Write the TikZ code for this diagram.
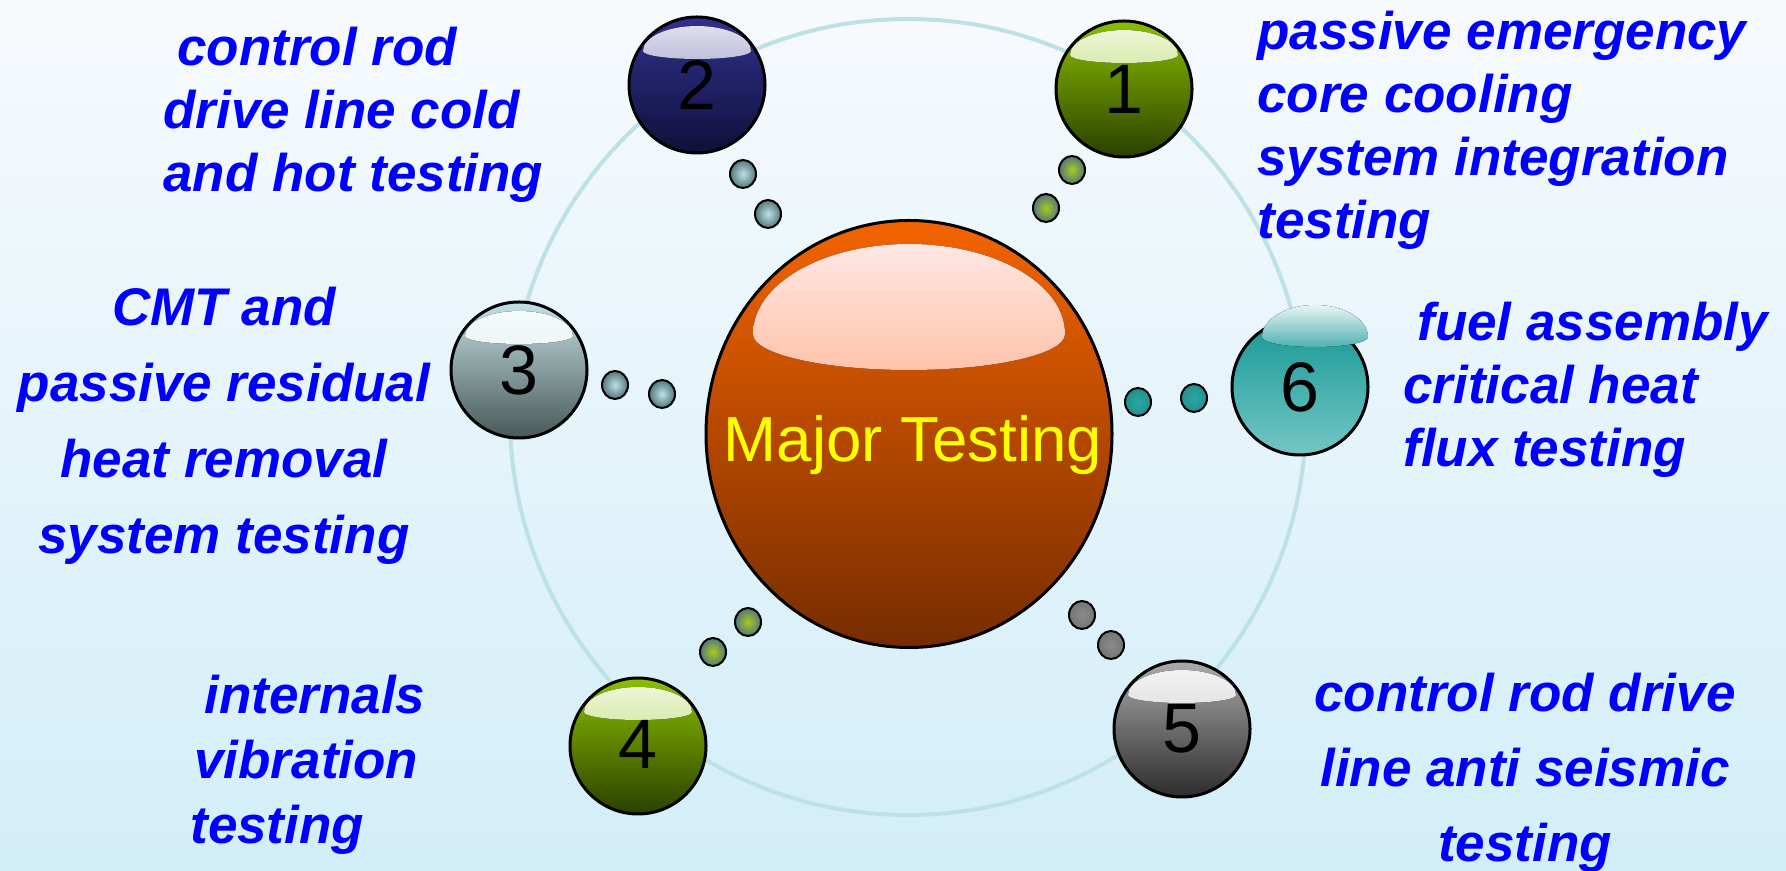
\documentclass[tikz,border=0pt]{standalone}
\usepackage{fontspec}
\setmainfont{Liberation Sans}
\usetikzlibrary{shapes.geometric}
\definecolor{bgtop}{HTML}{F7FAFD}
\definecolor{bgmid}{HTML}{EFF7FB}
\definecolor{bgbot}{HTML}{D2EEF8}
\definecolor{orbitc}{HTML}{BCE2E6}
\definecolor{labc}{HTML}{0000FF}
\definecolor{majc}{HTML}{FFFF00}
\definecolor{coretop}{HTML}{F46400}
\definecolor{corebot}{HTML}{762C00}
\definecolor{hitop}{HTML}{FFEDED}
\definecolor{hibot}{HTML}{FF7432}
\definecolor{greentop}{HTML}{8CC000}
\definecolor{greenbot}{HTML}{2A4000}
\definecolor{navytop}{HTML}{31318F}
\definecolor{navybot}{HTML}{10103A}
\definecolor{slatetop}{HTML}{C4E0E2}
\definecolor{slatebot}{HTML}{485858}
\definecolor{tealtop}{HTML}{169896}
\definecolor{tealbot}{HTML}{74C6C4}
\definecolor{greytop}{HTML}{ABABAB}
\definecolor{greybot}{HTML}{2C2C2C}
\definecolor{dotrim}{HTML}{55767C}
\definecolor{dotpale}{HTML}{BCE2E6}
\definecolor{dotlime}{HTML}{A4CC1C}
\definecolor{dotteal}{HTML}{2AA8A6}
\definecolor{dotgrey}{HTML}{8A8A8A}
\tikzset{
  orbit/.style={draw=orbitc, line width=2pt},
  ball/.style 2 args={circle, draw=black, line width=1.5pt, minimum size=68pt, inner sep=0pt,
    top color=#1, bottom color=#2, font=\fontsize{35}{35}\selectfont,
    path picture={\fill[top color=white!88!#1, bottom color=#1!72!white]
      ([yshift=-17pt]path picture bounding box.north) ++(-27pt,0)
      arc[start angle=180, end angle=0, x radius=27pt, y radius=12.5pt]
      arc[start angle=0, end angle=-180, x radius=27pt, y radius=4pt] -- cycle;}},
  plainball/.style 2 args={circle, draw=black, line width=1.5pt, minimum size=68pt, inner sep=0pt,
    top color=#1, bottom color=#2, font=\fontsize{35}{35}\selectfont},
  core/.style={ellipse, draw=black, line width=1.5pt, minimum width=203pt, minimum height=213.5pt,
    inner sep=0pt, top color=coretop, bottom color=corebot,
    path picture={\fill[top color=hitop, bottom color=hibot]
      ([yshift=50pt]path picture bounding box.center) ++(-78pt,0)
      arc[start angle=180, end angle=0, x radius=78pt, y radius=45pt]
      arc[start angle=0, end angle=-180, x radius=78pt, y radius=18pt] -- cycle;}},
  coretxt/.style={text=majc, font=\fontsize{31.8}{32}\selectfont, inner sep=0pt},
  dot/.style 2 args={ellipse, draw=black, line width=1pt, minimum width=13pt, minimum height=14pt,
    inner sep=0pt, inner color=#1, outer color=#2},
  lab/.style={text=labc, font=\fontsize{26.5}{31.5}\selectfont\bfseries\itshape, inner sep=0pt},
}

\begin{document}
\begin{tikzpicture}[x=0.5pt,y=0.5pt]
  \useasboundingbox (0,0) rectangle (1786,871);
  \shade[top color=bgtop, middle color=bgmid, bottom color=bgbot] (0,0) rectangle (1786,871);

  % ring behind everything
  \draw[orbit] (908,454) circle (199pt);

  % centre
  \node[core] (core) at (909,437) {};
  \node[coretxt] (major) at (913,426) {Major Testing};

  % numbered balls
  \node[ball={greentop}{greenbot}] (b1) at (1124,782) {\raisebox{-7pt}{1}};
  \node[ball={navytop}{navybot}] (b2) at (697,786) {\raisebox{-1pt}{2}};
  \node[ball={slatetop}{slatebot}] (b3) at (519,501) {3};
  \node[ball={greentop}{greenbot}] (b4) at (638,125) {\raisebox{1.5pt}{4}};
  \node[ball={greytop}{greybot}] (b5) at (1182,142) {\raisebox{1pt}{5}};
  \node[plainball={tealtop}{tealbot}] (b6) at (1300,484) {\raisebox{-2pt}{6}};
  \fill[top color=white!90!tealtop, bottom color=tealtop!75!white]
    (1262,534) arc[start angle=180, end angle=0, x radius=26.5pt, y radius=16pt]
    arc[start angle=0, end angle=-180, x radius=26.5pt, y radius=5pt] -- cycle;

  % little beads
  \node[dot={dotlime}{dotrim}] (d1a) at (1072,701) {};
  \node[dot={dotlime}{dotrim}] (d1b) at (1046,663) {};
  \node[dot={dotpale}{dotrim}] (d2a) at (743,697) {};
  \node[dot={dotpale}{dotrim}] (d2b) at (768,657) {};
  \node[dot={dotpale}{dotrim}] (d3a) at (615,486) {};
  \node[dot={dotpale}{dotrim}] (d3b) at (662,477) {};
  \node[dot={dotlime}{dotrim}] (d4a) at (748,249) {};
  \node[dot={dotlime}{dotrim}] (d4b) at (713,219) {};
  \node[dot={dotgrey}{dotgrey!85!black}] (d5a) at (1082,256) {};
  \node[dot={dotgrey}{dotgrey!85!black}] (d5b) at (1111,226) {};
  \node[dot={dotteal}{dotteal!85!black}] (d6a) at (1138,469) {};
  \node[dot={dotteal}{dotteal!85!black}] (d6b) at (1194,473) {};

  % captions
  \node[lab, anchor=north west, align=left] (t1) at (1257,860)
    {passive emergency\\core cooling\\system integration\\testing};
  \node[lab, anchor=north west, align=left] (t2) at (163,844)
    {\hspace*{7pt}control rod\\drive line cold\\and hot testing};
  \node[lab, anchor=north, align=center, font=\fontsize{26.5}{38}\selectfont\bfseries\itshape] (t3) at (224,584)
    {CMT and\\passive residual\\heat removal\\system testing};
  \node[lab, anchor=north west, align=left, font=\fontsize{26.5}{32.5}\selectfont\bfseries\itshape] (t4) at (190,196)
    {\hspace*{7pt}internals\\\hspace*{2pt}vibration\\testing};
  \node[lab, anchor=north, align=center, font=\fontsize{26.5}{37.5}\selectfont\bfseries\itshape] (t5) at (1525,198)
    {control rod drive\\line anti seismic\\testing};
  \node[lab, anchor=north west, align=left] (t6) at (1403,569)
    {\hspace*{7pt}fuel assembly\\critical heat\\flux testing};
\end{tikzpicture}
\end{document}
